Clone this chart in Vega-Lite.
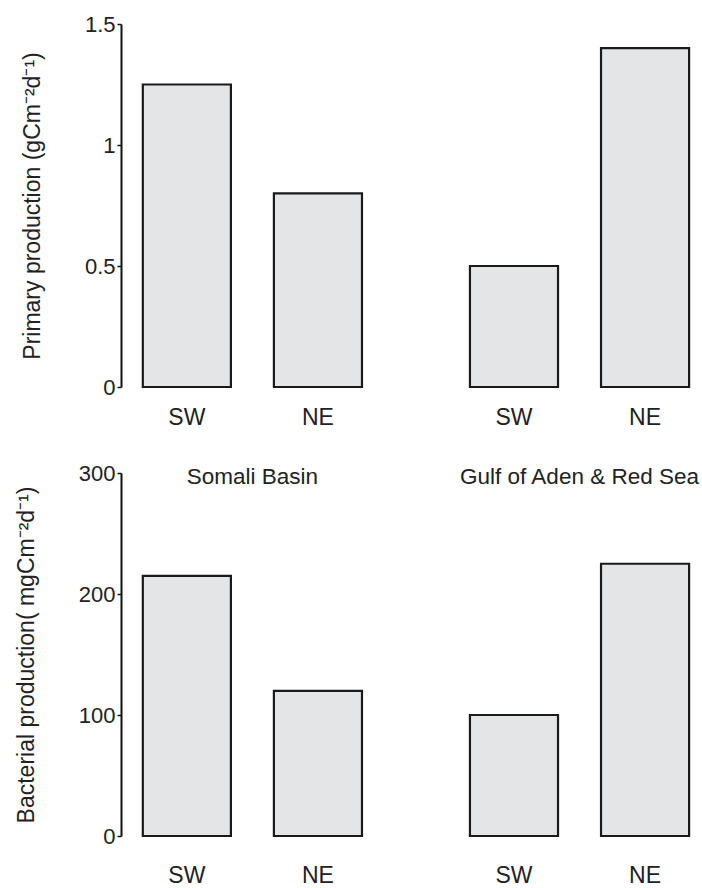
{
  "$schema": "https://vega.github.io/schema/vega-lite/v6.json",
  "padding": {"top": 13, "left": 15, "right": 0, "bottom": 0},
  "background": "white",
  "config": {
    "view": {"stroke": null},
    "font": "Liberation Sans",
    "axis": {"labelFont": "Liberation Sans", "titleFont": "Liberation Sans", "labelFontSize": 22, "titleFontSize": 23, "labelColor": "#222", "titleColor": "#222", "titleFontWeight": "normal", "domainColor": "#111", "domainWidth": 2, "tickColor": "#111", "tickWidth": 1.5, "tickSize": 4, "labelPadding": 2, "grid": false}
  },
  "spacing": 32,
  "datasets": {
    "prod": [
      {"region": "Somali", "season": "SW", "primary": 1.25, "bacterial": 215},
      {"region": "Somali", "season": "NE", "primary": 0.8, "bacterial": 120},
      {"region": "Gulf", "season": "SW", "primary": 0.5, "bacterial": 100},
      {"region": "Gulf", "season": "NE", "primary": 1.4, "bacterial": 225}
    ],
    "labels": [
      {"region": "Somali", "label": "Somali Basin"},
      {"region": "Gulf", "label": "Gulf of Aden & Red Sea"}
    ]
  },
  "vconcat": [
    {
      "width": 579,
      "height": 363,
      "data": {"name": "prod"},
      "encoding": {
        "x": {"field": "region", "type": "nominal", "axis": null,
              "scale": {"domain": ["Somali", "Gulf"], "paddingInner": 0.33, "paddingOuter": 0.05, "align": 0.667}},
        "xOffset": {"field": "season", "type": "nominal", "scale": {"domain": ["SW", "NE"], "paddingInner": 0.328, "paddingOuter": 0}}
      },
      "layer": [
        {
          "mark": {"type": "bar", "fill": "#e4e5e7", "stroke": "#1a1a1a", "strokeWidth": 2.2},
          "encoding": {
            "y": {"field": "primary", "type": "quantitative", "scale": {"domain": [0, 1.5], "nice": false},
                  "axis": {"values": [0, 0.5, 1, 1.5], "format": "~g", "title": "Primary production (gCm⁻²d⁻¹)", "titlePadding": 40}}
          }
        },
        {
          "mark": {"type": "text", "fontSize": 23, "color": "#222", "baseline": "middle", "dy": 31},
          "encoding": {
            "y": {"datum": 0},
            "text": {"field": "season"}
          }
        }
      ]
    },
    {
      "width": 579,
      "height": 363,
      "layer": [
        {
          "data": {"name": "prod"},
          "encoding": {
            "x": {"field": "region", "type": "nominal", "axis": null,
                  "scale": {"domain": ["Somali", "Gulf"], "paddingInner": 0.33, "paddingOuter": 0.05, "align": 0.667}},
            "xOffset": {"field": "season", "type": "nominal", "scale": {"domain": ["SW", "NE"], "paddingInner": 0.328, "paddingOuter": 0}}
          },
          "layer": [
            {
              "mark": {"type": "bar", "fill": "#e4e5e7", "stroke": "#1a1a1a", "strokeWidth": 2.2},
              "encoding": {
                "y": {"field": "bacterial", "type": "quantitative", "scale": {"domain": [0, 300], "nice": false},
                      "axis": {"values": [0, 100, 200, 300], "title": "Bacterial production( mgCm⁻²d⁻¹)", "titlePadding": 40}}
              }
            },
            {
              "mark": {"type": "text", "fontSize": 23, "color": "#222", "baseline": "middle", "dy": 40},
              "encoding": {
                "y": {"datum": 0},
                "text": {"field": "season"}
              }
            }
          ]
        },
        {
          "data": {"name": "labels"},
          "mark": {"type": "text", "fontSize": 22.5, "color": "#222", "baseline": "middle", "dy": 4},
          "encoding": {
            "x": {"field": "region", "type": "nominal", "axis": null},
            "y": {"datum": 300},
            "text": {"field": "label"}
          }
        }
      ]
    }
  ]
}
